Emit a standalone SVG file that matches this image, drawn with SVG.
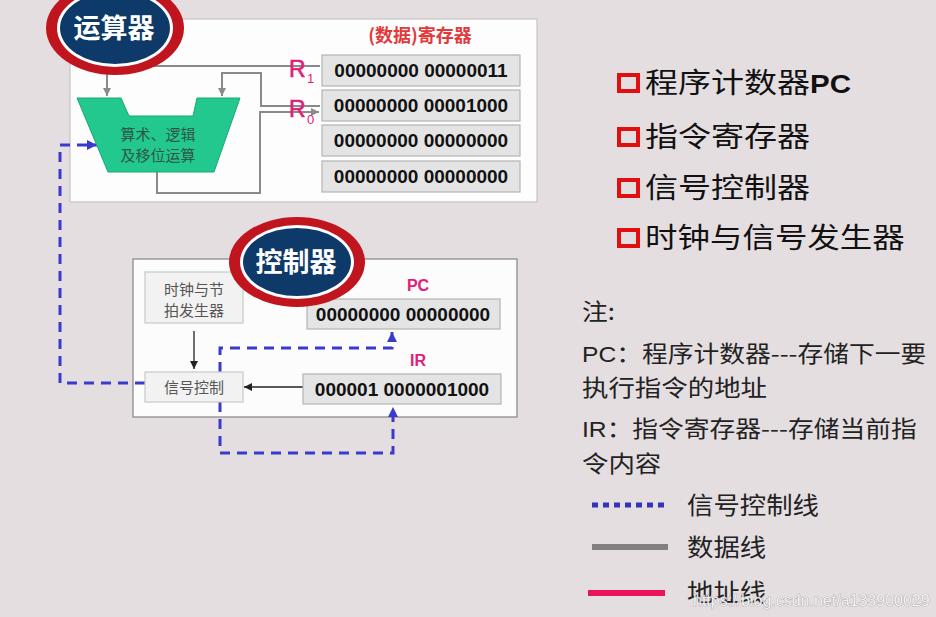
<svg xmlns="http://www.w3.org/2000/svg" width="936" height="617" viewBox="0 0 936 617">
<defs>
<style>
.cjk{font-family:"Noto Sans CJK SC","Noto Sans",sans-serif}
.num{font-family:"Liberation Sans",Arial,sans-serif;font-weight:bold;font-size:19px;fill:#111;text-anchor:middle}
.reg{fill:#e4e4e4;stroke:#b4b4b4;stroke-width:1.2}
.lbl{font-family:"Liberation Sans",Arial,sans-serif;fill:#e0207a}
.data{fill:none;stroke:#8a8a8a;stroke-width:2}
.ctl{fill:none;stroke:#3a3acc;stroke-width:3;stroke-dasharray:10 7}
.blk{fill:none;stroke:#222;stroke-width:1.3}
.small{fill:#f2f2f2;stroke:#c8c8c8;stroke-width:1.2}
.smtxt{font-size:15px;fill:#555;text-anchor:middle}
.bullet{fill:none;stroke:#e01010;stroke-width:4}
.big{font-size:28px;fill:#111}
.note{font-size:23px;fill:#222}
.leg{font-size:24px;fill:#222}
</style>
<marker id="ag" markerWidth="10" markerHeight="10" refX="8" refY="5" orient="auto" markerUnits="userSpaceOnUse"><path d="M0,1 L8,5 L0,9 Z" fill="#8a8a8a"/></marker>
<marker id="ab" markerWidth="12" markerHeight="12" refX="10" refY="6" orient="auto" markerUnits="userSpaceOnUse"><path d="M0,1 L10,6 L0,11 Z" fill="#3a3acc"/></marker>
<marker id="ak" markerWidth="10" markerHeight="10" refX="8" refY="5" orient="auto" markerUnits="userSpaceOnUse"><path d="M0,1 L8,5 L0,9 Z" fill="#222"/></marker>
</defs>
<rect width="936" height="617" fill="#e5dee1"/>

<g id="alu-panel">
<rect x="70" y="19" width="467" height="183" fill="#fdfdfd" stroke="#c4c4c4" stroke-width="1.2"/>
</g>
<g id="ctl-panel">
<rect x="133" y="259" width="384" height="158" fill="#fcfcfc" stroke="#8c8c8c" stroke-width="1.3"/>
</g>

<g id="connectors">
<path class="data" d="M320,66 H107 V96" marker-end="url(#ag)"/>
<path class="data" d="M320,106 H261 V73 H222 V96" marker-end="url(#ag)"/>
<path class="data" d="M157,172 V193 H260 V112 H319" marker-end="url(#ag)"/>
<path class="ctl" d="M145,383 H60 V145 H97" marker-end="url(#ab)"/>
<path class="ctl" d="M220,372 V348 H392 V332" marker-end="url(#ab)"/>
<path class="ctl" d="M220,402 V453 H393 V407" marker-end="url(#ab)"/>
<path class="blk" d="M194,331 V369" marker-end="url(#ak)"/>
<path class="blk" d="M303,387 H244" marker-end="url(#ak)"/>
</g>

<g id="alu">
<path d="M77,98 H121 L129,116 H193 L197,98 H240 L214,172 H108 Z" fill="#22c88e" stroke="#1aa878" stroke-width="1"/>
<text class="cjk" x="158" y="140" font-size="15" fill="#2f5546" text-anchor="middle">算术、逻辑</text>
<text class="cjk" x="158" y="161" font-size="15" fill="#2f5546" text-anchor="middle">及移位运算</text>
</g>

<g id="reg-title">
<text class="cjk" x="420" y="42" font-size="18" font-weight="bold" fill="#e23a3a" text-anchor="middle">(数据)寄存器</text>
</g>
<g id="reg-r1">
<rect class="reg" x="322" y="55" width="198" height="31"/>
<text class="num" x="421" y="77">00000000 00000011</text>
<text class="lbl" x="289" y="77" font-size="23" stroke="#e0207a" stroke-width="0.6">R</text>
<text class="lbl" x="307" y="83" font-size="13">1</text>
</g>
<g id="reg-r0">
<rect class="reg" x="322" y="90" width="198" height="31"/>
<text class="num" x="421" y="112">00000000 00001000</text>
<text class="lbl" x="289" y="117" font-size="23" stroke="#e0207a" stroke-width="0.6">R</text>
<text class="lbl" x="307" y="124" font-size="13">0</text>
</g>
<g id="reg-r2">
<rect class="reg" x="322" y="125" width="198" height="31"/>
<text class="num" x="421" y="147">00000000 00000000</text>
</g>
<g id="reg-r3">
<rect class="reg" x="322" y="161" width="198" height="31"/>
<text class="num" x="421" y="183">00000000 00000000</text>
</g>

<g id="alu-title">
<ellipse cx="115" cy="28" rx="69" ry="47" fill="#c0141e"/>
<ellipse cx="115" cy="28" rx="58" ry="39" fill="#ffffff"/>
<ellipse cx="115" cy="28" rx="55" ry="36" fill="#0e3a6a"/>
<text class="cjk" x="114" y="38" font-size="27" font-weight="bold" fill="#ffffff" text-anchor="middle">运算器</text>
</g>

<g id="clock">
<rect class="small" x="145" y="272" width="98" height="51"/>
<text class="cjk smtxt" x="194" y="295">时钟与节</text>
<text class="cjk smtxt" x="194" y="316">拍发生器</text>
</g>
<g id="signal">
<rect class="small" x="145" y="372" width="98" height="30"/>
<text class="cjk smtxt" x="194" y="393">信号控制</text>
</g>
<g id="pc">
<text class="lbl" x="418" y="291" font-size="16" font-weight="bold" text-anchor="middle">PC</text>
<rect class="reg" x="307" y="299" width="193" height="30"/>
<text class="num" x="403" y="321">00000000 00000000</text>
</g>
<g id="ir">
<text class="lbl" x="418" y="366" font-size="16" font-weight="bold" text-anchor="middle">IR</text>
<rect class="reg" x="303" y="374" width="198" height="30"/>
<text class="num" x="402" y="396">000001 0000001000</text>
</g>

<g id="ctl-title">
<ellipse cx="297" cy="262" rx="68" ry="45" fill="#c0141e"/>
<ellipse cx="297" cy="262" rx="57" ry="37" fill="#ffffff"/>
<ellipse cx="297" cy="262" rx="54" ry="34" fill="#0e3a6a"/>
<text class="cjk" x="296" y="272" font-size="27" font-weight="bold" fill="#ffffff" text-anchor="middle">控制器</text>
</g>

<g id="bullets">
<rect class="bullet" x="619" y="75" width="19" height="16"/>
<text class="cjk big" transform="translate(645,93) scale(1.18,1)">程序计数器<tspan font-family="Liberation Sans,Arial,sans-serif" font-weight="bold" font-size="25">PC</tspan></text>
<rect class="bullet" x="619" y="129" width="19" height="16"/>
<text class="cjk big" transform="translate(645,147) scale(1.18,1)">指令寄存器</text>
<rect class="bullet" x="619" y="180" width="19" height="16"/>
<text class="cjk big" transform="translate(645,198) scale(1.18,1)">信号控制器</text>
<rect class="bullet" x="619" y="230" width="19" height="16"/>
<text class="cjk big" transform="translate(645,248) scale(1.16,1)">时钟与信号发生器</text>
</g>

<g id="notes">
<text class="cjk note" transform="translate(582,320) scale(1.12,1)">注:</text>
<text class="cjk note" transform="translate(582,362) scale(1.12,1)"><tspan font-family="Liberation Sans,Arial,sans-serif" font-size="22">PC</tspan>：程序计数器---存储下一要</text>
<text class="cjk note" transform="translate(582,396) scale(1.15,1)">执行指令的地址</text>
<text class="cjk note" transform="translate(582,437) scale(1.12,1)"><tspan font-family="Liberation Sans,Arial,sans-serif" font-size="22">IR</tspan>：指令寄存器---存储当前指</text>
<text class="cjk note" transform="translate(582,472) scale(1.15,1)">令内容</text>
</g>

<g id="legend">
<line x1="592" y1="505" x2="667" y2="505" stroke="#3333bb" stroke-width="5" stroke-dasharray="6 5"/>
<text class="cjk leg" transform="translate(687,514) scale(1.1,1)">信号控制线</text>
<line x1="592" y1="547" x2="668" y2="547" stroke="#808080" stroke-width="6"/>
<text class="cjk leg" transform="translate(687,556) scale(1.1,1)">数据线</text>
<line x1="588" y1="593" x2="665" y2="593" stroke="#e8135a" stroke-width="6"/>
<text class="cjk leg" transform="translate(687,601) scale(1.1,1)">地址线</text>
</g>

<g id="watermark">
<text x="693" y="606" font-family="Liberation Sans,Arial,sans-serif" font-size="16" fill="#ffffff" fill-opacity="0.85" stroke="#8a8a8a" stroke-width="0.6" paint-order="stroke">https://blog.csdn.net/a133900029</text>
</g>
</svg>
